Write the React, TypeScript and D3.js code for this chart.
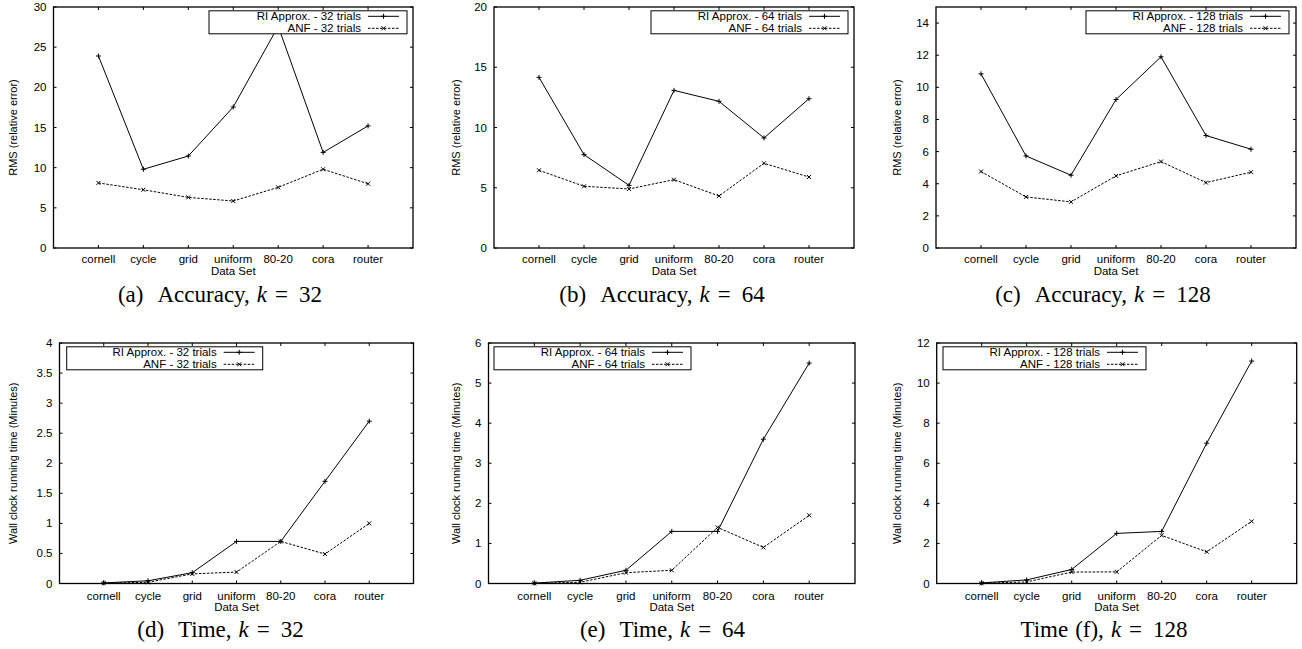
import React from "react";
import * as d3 from "d3";

const CATEGORIES = ["cornell", "cycle", "grid", "uniform", "80-20", "cora", "router"];

const RI_ACC_32 = [23.9, 9.8, 11.45, 17.55, 27.6, 11.9, 15.2];
const ANF_ACC_32 = [8.1, 7.25, 6.3, 5.85, 7.55, 9.8, 8.0];
const RI_ACC_64 = [14.16, 7.75, 5.2, 13.08, 12.17, 9.13, 12.39];
const ANF_ACC_64 = [6.45, 5.12, 4.9, 5.67, 4.32, 7.03, 5.89];
const RI_ACC_128 = [10.84, 5.73, 4.53, 9.24, 11.9, 7.0, 6.15];
const ANF_ACC_128 = [4.76, 3.18, 2.87, 4.49, 5.38, 4.07, 4.72];

const RI_TIME_32 = [0.01, 0.045, 0.18, 0.7, 0.7, 1.7, 2.7];
const ANF_TIME_32 = [0.005, 0.02, 0.16, 0.19, 0.7, 0.49, 1.0];
const RI_TIME_64 = [0.01, 0.08, 0.33, 1.3, 1.3, 3.6, 5.5];
const ANF_TIME_64 = [0.005, 0.03, 0.27, 0.33, 1.4, 0.9, 1.7];
const RI_TIME_128 = [0.03, 0.18, 0.7, 2.5, 2.6, 7.0, 11.1];
const ANF_TIME_128 = [0.01, 0.08, 0.57, 0.58, 2.4, 1.58, 3.1];

const Y_TICKS_ACC_32 = [0, 5, 10, 15, 20, 25, 30];
const Y_TICKS_ACC_64 = [0, 5, 10, 15, 20];
const Y_TICKS_ACC_128 = [0, 2, 4, 6, 8, 10, 12, 14];
const Y_TICKS_TIME_32 = [0, 0.5, 1, 1.5, 2, 2.5, 3, 3.5, 4];
const Y_TICKS_TIME_64 = [0, 1, 2, 3, 4, 5, 6];
const Y_TICKS_TIME_128 = [0, 2, 4, 6, 8, 10, 12];

const SANS = "'Liberation Sans', Arial, Helvetica, sans-serif";
const SERIF = "'Liberation Serif', 'Times New Roman', serif";

type PanelProps = {
  left: number;
  right: number;
  top: number;
  bottom: number;
  yMax: number;
  yTicks: number[];
  ri: number[];
  anf: number[];
  trials: number;
  yLabel: string;
  yLabelX: number;
  legendX0: number;
  legendX1: number;
  capX: number;
  capA: string;
  capB: string;
  capGap: number;
  k: number;
  tickBase: number;
  dsBase: number;
  capBase: number;
};

function Panel(p: PanelProps) {
  const x = d3.scaleLinear().domain([0, 8]).range([p.left, p.right]);
  const y = d3.scaleLinear().domain([0, p.yMax]).range([p.bottom, p.top]);
  const line = d3
    .line<number>()
    .x((_, i) => x(i + 1))
    .y((d) => y(d));
  const tl = 3;
  const legTop = p.top + 3.8;
  const legH = 23;
  const r1 = legTop + 5.5;
  const r2 = legTop + 17.5;
  const textEnd = p.legendX1 - 46;
  const ls0 = p.legendX1 - 39;
  const ls1 = p.legendX1 - 8;
  const plus = (cx: number, cy: number, key: string) => (
    <g key={key}>
      <line x1={cx - 2.5} x2={cx + 2.5} y1={cy} y2={cy} stroke="#000" strokeWidth={1} />
      <line x1={cx} x2={cx} y1={cy - 2.5} y2={cy + 2.5} stroke="#000" strokeWidth={1} />
    </g>
  );
  const cross = (cx: number, cy: number, key: string) => (
    <g key={key}>
      <line x1={cx - 2} x2={cx + 2} y1={cy - 2} y2={cy + 2} stroke="#000" strokeWidth={1} />
      <line x1={cx - 2} x2={cx + 2} y1={cy + 2} y2={cy - 2} stroke="#000" strokeWidth={1} />
    </g>
  );
  const midY = (p.top + p.bottom) / 2;
  return (
    <g>
      {p.yTicks.map((t) => (
        <g key={"y" + t}>
          <line x1={p.left} x2={p.left + tl} y1={y(t)} y2={y(t)} stroke="#000" />
          <line x1={p.right} x2={p.right - tl} y1={y(t)} y2={y(t)} stroke="#000" />
          <text x={p.left - 7} y={y(t)} dy="0.35em" textAnchor="end" fontFamily={SANS} fontSize={11.5}>
            {t}
          </text>
        </g>
      ))}
      {CATEGORIES.map((c, i) => (
        <g key={"x" + c}>
          <line x1={x(i + 1)} x2={x(i + 1)} y1={p.bottom} y2={p.bottom - tl} stroke="#000" />
          <line x1={x(i + 1)} x2={x(i + 1)} y1={p.top} y2={p.top + tl} stroke="#000" />
          <text x={x(i + 1)} y={p.tickBase} textAnchor="middle" fontFamily={SANS} fontSize={11.5}>
            {c}
          </text>
        </g>
      ))}
      <text x={x(4)} y={p.dsBase} textAnchor="middle" fontFamily={SANS} fontSize={11.5}>
        Data Set
      </text>
      <text
        transform={`translate(${p.yLabelX},${midY}) rotate(-90)`}
        textAnchor="middle"
        dy="0.35em"
        fontFamily={SANS}
        fontSize={11}
      >
        {p.yLabel}
      </text>
      <path d={line(p.anf) || ""} fill="none" stroke="#000" strokeWidth={1} strokeDasharray="2.5,1.5" />
      <path d={line(p.ri) || ""} fill="none" stroke="#000" strokeWidth={1} />
      {p.ri.map((v, i) => plus(x(i + 1), y(v), "rp" + i))}
      {p.anf.map((v, i) => cross(x(i + 1), y(v), "ap" + i))}
      <rect
        x={p.legendX0}
        y={legTop}
        width={p.legendX1 - p.legendX0}
        height={legH}
        fill="#fff"
        stroke="#000"
        strokeWidth={1}
      />
      <text x={textEnd} y={r1} dy="0.35em" textAnchor="end" fontFamily={SANS} fontSize={11.5}>
        {`RI Approx. - ${p.trials} trials`}
      </text>
      <text x={textEnd} y={r2} dy="0.35em" textAnchor="end" fontFamily={SANS} fontSize={11.5}>
        {`ANF - ${p.trials} trials`}
      </text>
      <line x1={ls0} x2={ls1} y1={r1} y2={r1} stroke="#000" strokeWidth={1} />
      {plus((ls0 + ls1) / 2, r1, "lp")}
      <line x1={ls0} x2={ls1} y1={r2} y2={r2} stroke="#000" strokeWidth={1} strokeDasharray="2.5,1.5" />
      {cross((ls0 + ls1) / 2, r2, "lc")}
      <rect
        x={p.left}
        y={p.top}
        width={p.right - p.left}
        height={p.bottom - p.top}
        fill="none"
        stroke="#000"
        strokeWidth={1.3}
      />
      <text x={p.capX} y={p.capBase} textAnchor="middle" fontFamily={SERIF} fontSize={23}>
        {p.capA}
        <tspan dx={p.capGap}>{p.capB}</tspan>
        <tspan dx={7} fontStyle="italic">k</tspan>
        <tspan dx={8}>=</tspan>
        <tspan dx={11}>{String(p.k)}</tspan>
      </text>
    </g>
  );
}

const ACC_LABEL = "RMS (relative error)";
const TIME_LABEL = "Wall clock running time (Minutes)";

export default function App() {
  const top1 = 7;
  const bot1 = 248;
  const top2 = 343;
  const bot2 = 583.5;
  return (
    <svg width={1302} height={649} style={{ position: "absolute", left: 0, top: 0, background: "#fff" }}>
      <rect x={0} y={0} width={1302} height={649} fill="#fff" />
      <Panel
        left={53.5} right={413} top={top1} bottom={bot1}
        yMax={30} yTicks={Y_TICKS_ACC_32} ri={RI_ACC_32} anf={ANF_ACC_32} trials={32}
        yLabel={ACC_LABEL} yLabelX={13.5} legendX0={209} legendX1={407}
        capX={220} capA="(a)" capB="Accuracy," capGap={14} k={32}
        tickBase={263} dsBase={275} capBase={302}
      />
      <Panel
        left={494} right={854} top={top1} bottom={bot1}
        yMax={20} yTicks={Y_TICKS_ACC_64} ri={RI_ACC_64} anf={ANF_ACC_64} trials={64}
        yLabel={ACC_LABEL} yLabelX={456.5} legendX0={651} legendX1={848}
        capX={662} capA="(b)" capB="Accuracy," capGap={14} k={64}
        tickBase={263} dsBase={275} capBase={302}
      />
      <Panel
        left={936} right={1296} top={top1} bottom={bot1}
        yMax={15} yTicks={Y_TICKS_ACC_128} ri={RI_ACC_128} anf={ANF_ACC_128} trials={128}
        yLabel={ACC_LABEL} yLabelX={897.5} legendX0={1086} legendX1={1289}
        capX={1103} capA="(c)" capB="Accuracy," capGap={14} k={128}
        tickBase={263} dsBase={275} capBase={302}
      />
      <Panel
        left={59.5} right={413.5} top={top2} bottom={bot2}
        yMax={4} yTicks={Y_TICKS_TIME_32} ri={RI_TIME_32} anf={ANF_TIME_32} trials={32}
        yLabel={TIME_LABEL} yLabelX={13.5} legendX0={66.7} legendX1={262.7}
        capX={220.5} capA="(d)" capB="Time," capGap={14} k={32}
        tickBase={599.5} dsBase={611} capBase={637}
      />
      <Panel
        left={488.5} right={855} top={top2} bottom={bot2}
        yMax={6} yTicks={Y_TICKS_TIME_64} ri={RI_TIME_64} anf={ANF_TIME_64} trials={64}
        yLabel={TIME_LABEL} yLabelX={456} legendX0={494} legendX1={691}
        capX={662.5} capA="(e)" capB="Time," capGap={14} k={64}
        tickBase={599.5} dsBase={611} capBase={637}
      />
      <Panel
        left={936.7} right={1296.7} top={top2} bottom={bot2}
        yMax={12} yTicks={Y_TICKS_TIME_128} ri={RI_TIME_128} anf={ANF_TIME_128} trials={128}
        yLabel={TIME_LABEL} yLabelX={897.5} legendX0={943} legendX1={1146}
        capX={1104} capA="Time" capB="(f)," capGap={7} k={128}
        tickBase={599.5} dsBase={611} capBase={637}
      />
    </svg>
  );
}
